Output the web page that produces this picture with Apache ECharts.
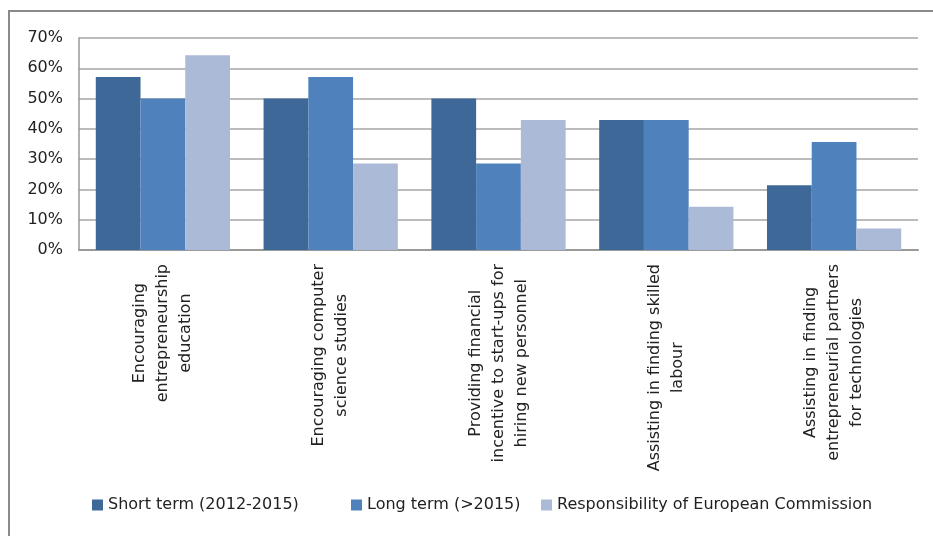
<!DOCTYPE html>
<html>
<head>
<meta charset="utf-8">
<script src="https://cdn.jsdelivr.net/npm/echarts@6/dist/echarts.min.js"></script>
<style>
  html, body { margin: 0; padding: 0; background: #fff; }
  #chart { width: 933px; height: 536px; }
</style>
</head>
<body>
<div id="chart"></div>
<script>
// categories, with the line breaks used in the original labels
const categories = [
  'Encouraging\nentrepreneurship\neducation',
  'Encouraging computer\nscience studies',
  'Providing financial\nincentive to start-ups for\nhiring new personnel',
  'Assisting in finding skilled\nlabour',
  'Assisting in finding\nentrepreneurial partners\nfor technologies'
];
const seriesNames = ['Short term (2012-2015)', 'Long term (>2015)', 'Responsibility of European Commission'];
const shortTerm = [57.1, 50.0, 50.0, 42.9, 21.4];
const longTerm = [50.0, 57.1, 28.6, 42.9, 35.7];
const commission = [64.3, 28.6, 42.9, 14.3, 7.1];
const colors = ['#3E6898', '#4F81BD', '#ABBAD7'];

const chart = echarts.init(document.getElementById('chart'));

const font = 'DejaVu Sans';

// excel spaces the legend entries unevenly, so each gets its own legend
const legendLefts = [87, 346, 536];
const legends = seriesNames.map((name, i) => ({
  bottom: 18,
  left: legendLefts[i],
  itemWidth: 11,
  itemHeight: 11,
  icon: 'rect',
  textStyle: { fontFamily: font, fontSize: 16, color: '#222' },
  data: [name]
}));

const option = {
  animation: false,
  color: colors,
  graphic: [{
    type: 'rect',
    shape: { x: 9, y: 11, width: 1000, height: 1000 },
    style: { fill: 'none', stroke: '#8a8a8a', lineWidth: 2 },
    silent: true
  }],
  grid: { left: 79, right: 15, top: 38, bottom: 286 },
  legend: legends,
  xAxis: {
    type: 'category',
    data: categories,
    axisLine: { lineStyle: { color: '#999', width: 2 } },
    axisTick: { show: false },
    axisLabel: {
      interval: 0,
      rotate: 90,
      margin: 14,
      formatter: v => v.split('\n').map(s => '{c|' + s + '}').join('\n'),
      rich: {
        c: { align: 'center', fontFamily: font, fontSize: 16, lineHeight: 23, color: '#222' }
      }
    }
  },
  yAxis: {
    type: 'value',
    min: 0,
    max: 70,
    interval: 10,
    axisLine: { show: true, lineStyle: { color: '#999', width: 1.5 } },
    axisTick: { show: false },
    splitLine: { lineStyle: { color: '#a6a6a6', width: 1.5 } },
    axisLabel: {
      formatter: '{value}%',
      margin: 16,
      fontFamily: font,
      fontSize: 16,
      color: '#222'
    }
  },
  series: [
    { name: seriesNames[0], type: 'bar', data: shortTerm, barGap: '0%', barCategoryGap: '20%' },
    { name: seriesNames[1], type: 'bar', data: longTerm, barGap: '0%', barCategoryGap: '20%' },
    { name: seriesNames[2], type: 'bar', data: commission, barGap: '0%', barCategoryGap: '20%' }
  ]
};

chart.setOption(option);
</script>
</body>
</html>
